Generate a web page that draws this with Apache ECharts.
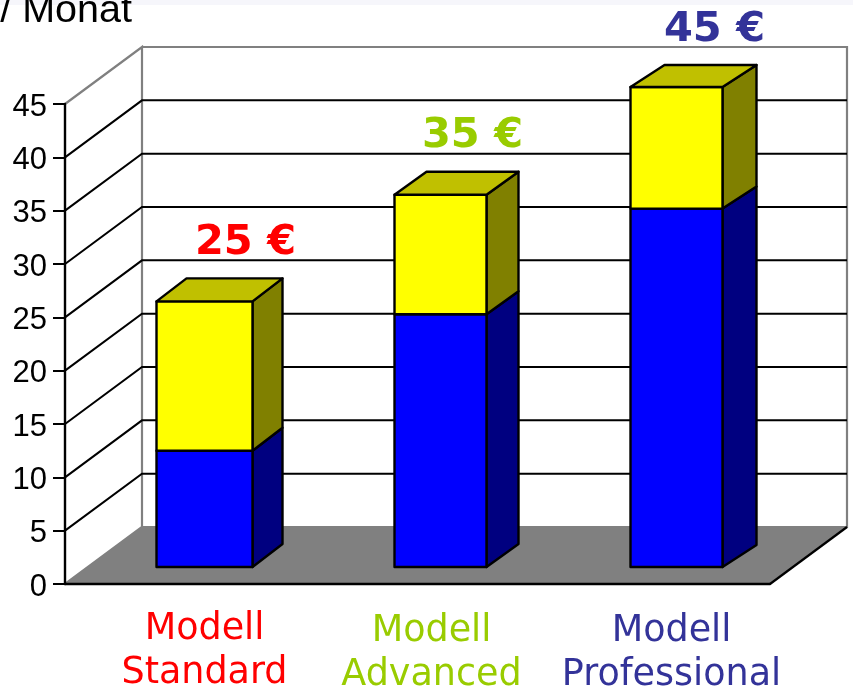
<!DOCTYPE html>
<html>
<head>
<meta charset="utf-8">
<style>html,body{margin:0;padding:0;background:#fff}#c{width:853px;height:695px}</style>
<script src="https://cdn.jsdelivr.net/npm/echarts@6/dist/echarts.min.js"></script>
</head>
<body>
<div id="c"></div>
<script>
// ----- data -----
var categories = ['Modell\nStandard', 'Modell\nAdvanced', 'Modell\nProfessional'];
var lowerValues = [10.9, 23.7, 33.6];
var upperValues = [14.0, 11.2, 11.4];
var priceLabels = ['25 €', '35 €', '45 €'];
var tickValues = [5, 10, 15, 20, 25, 30, 35, 40, 45];
var unitText = '/ Monat';

// ----- styles and layout -----
var labelColors = ['#ff0000', '#99cc00', '#333399'];
var wallDepth = [77, -57];
var barLift = 17;
var barShift = [22, 23, 24];
var barWidths = [96, 92, 92];
var barDepths = [[30, -23], [32, -23], [34, -22]];
var priceOffset = [41, 32, 38];
var priceRise = [58, 59, 57];
var nameOffset = [[22, 3], [14, 5], [19, 5]];
var LINE = '#000';

function barPoly(api, i, from, to, front, side, top) {
  var base = api.coord([i, 0]);
  var cx = base[0] + barShift[i];
  var w = barWidths[i] / 2;
  var d = barDepths[i];
  var y0 = api.coord([i, from])[1] - barLift;
  var y1 = api.coord([i, to])[1] - barLift;
  var st = { stroke: LINE, lineWidth: 2.4, lineJoin: 'round' };
  var kids = [
    { type: 'polygon', shape: { points: [[cx + w, y0], [cx + w + d[0], y0 + d[1]], [cx + w + d[0], y1 + d[1]], [cx + w, y1]] }, style: Object.assign({ fill: side }, st) },
    { type: 'polygon', shape: { points: [[cx - w, y1], [cx + w, y1], [cx + w, y0], [cx - w, y0]] }, style: Object.assign({ fill: front }, st) }
  ];
  if (top) {
    kids.push({ type: 'polygon', shape: { points: [[cx - w, y1], [cx - w + d[0], y1 + d[1]], [cx + w + d[0], y1 + d[1]], [cx + w, y1]] }, style: Object.assign({ fill: top }, st) });
  }
  return { type: 'group', children: kids };
}

var chart = echarts.init(document.getElementById('c'), null, { renderer: 'canvas' });
chart.setOption({
  animation: false,
  backgroundColor: '#fff',
  graphic: [
    { type: 'rect', z: -10, shape: { x: 0, y: 0, width: 853, height: 5 }, style: { fill: '#f6f6fb' } },
    { type: 'text', z: 20, x: 132, y: 31, style: { text: unitText, textAlign: 'right', textVerticalAlign: 'bottom', font: '39.5px "Liberation Sans"', fill: '#000' } }
  ],
  grid: { left: 65, top: 104, width: 705, height: 480, containLabel: false },
  xAxis: {
    type: 'category', data: categories, z: 5,
    axisLine: { show: true, lineStyle: { color: '#000', width: 2.4 } },
    axisTick: { show: false }, axisLabel: { show: false }, splitLine: { show: false }
  },
  yAxis: {
    type: 'value', min: 0, max: 45, interval: 5, z: 5,
    axisLine: { show: true, lineStyle: { color: '#000', width: 2.4 } },
    axisTick: { show: true, length: 12, lineStyle: { color: '#000', width: 2 } },
    axisLabel: { margin: 18, fontSize: 31, color: '#000', fontFamily: 'Liberation Sans', verticalAlign: 'top', lineHeight: 6 },
    splitLine: { show: false }
  },
  series: [
    { // walls and floor
      type: 'custom', coordinateSystem: 'cartesian2d', z: 1, silent: true, data: [0],
      renderItem: function (p, api) {
        var o = api.coord([0, 0]), size = api.size([1, 0])[0];
        var x0 = o[0] - size / 2, x1 = x0 + size * 3, y0 = o[1];
        var yt = api.coord([0, 45])[1];
        var dx = wallDepth[0], dy = wallDepth[1];
        return { type: 'group', children: [
          { type: 'polygon', shape: { points: [[x0, y0], [x0 + dx, y0 + dy], [x1 + dx, y0 + dy], [x1, y0]] }, style: { fill: '#808080', stroke: null } },
          { type: 'polyline', shape: { points: [[x0, y0], [x0 + dx, y0 + dy], [x0 + dx, yt + dy], [x0, yt]] }, style: { fill: null, stroke: '#808080', lineWidth: 2.2 } },
          { type: 'polyline', shape: { points: [[x0 + dx, y0 + dy], [x1 + dx, y0 + dy], [x1 + dx, yt + dy], [x0 + dx, yt + dy]] }, style: { fill: null, stroke: '#808080', lineWidth: 2.2 } },
          { type: 'line', shape: { x1: x1, y1: y0, x2: x1 + dx, y2: y0 + dy }, style: { stroke: '#000', lineWidth: 2.2 } }
        ] };
      }
    },
    { // gridlines
      type: 'custom', coordinateSystem: 'cartesian2d', z: 2, silent: true,
      data: tickValues.slice(0, -1).map(function (v) { return [0, v]; }),
      renderItem: function (p, api) {
        var o = api.coord([0, api.value(1)]), size = api.size([1, 0])[0];
        var x0 = o[0] - size / 2, x1 = x0 + size * 3, y = o[1];
        var dx = wallDepth[0], dy = wallDepth[1];
        return { type: 'polyline', shape: { points: [[x0, y], [x0 + dx, y + dy], [x1 + dx, y + dy]] }, style: { fill: null, stroke: '#000', lineWidth: 2 } };
      }
    },
    { // lower block
      type: 'custom', coordinateSystem: 'cartesian2d', z: 10, name: 'lower',
      data: lowerValues.map(function (v, i) { return [i, v]; }),
      renderItem: function (p, api) {
        return barPoly(api, api.value(0), 0, api.value(1), '#0000ff', '#000080', null);
      }
    },
    { // upper block
      type: 'custom', coordinateSystem: 'cartesian2d', z: 11, name: 'upper',
      data: upperValues.map(function (v, i) { return [i, lowerValues[i], v]; }),
      renderItem: function (p, api) {
        return barPoly(api, api.value(0), api.value(1), api.value(1) + api.value(2), '#ffff00', '#808000', '#c0c000');
      }
    },
    { // price labels and category names
      type: 'custom', coordinateSystem: 'cartesian2d', z: 12, silent: true,
      data: upperValues.map(function (v, i) { return [i, lowerValues[i] + v]; }),
      renderItem: function (p, api) {
        var i = api.value(0);
        var c = api.coord([i, api.value(1)]);
        var b = api.coord([i, 0]);
        return { type: 'group', children: [
          { type: 'text', style: { x: c[0] + barShift[i] + priceOffset[i], y: c[1] - barLift - priceRise[i], text: priceLabels[i], textAlign: 'center', textVerticalAlign: 'middle', font: 'bold 41.5px "DejaVu Sans"', fill: labelColors[i] } },
          { type: 'text', style: { x: b[0] + nameOffset[i][0], y: b[1] + 65 + nameOffset[i][1], text: categories[i], textAlign: 'center', textVerticalAlign: 'middle', font: '36.5px "DejaVu Sans"', lineHeight: 44, fill: labelColors[i] } }
        ] };
      }
    }
  ]
});
</script>
</body>
</html>
